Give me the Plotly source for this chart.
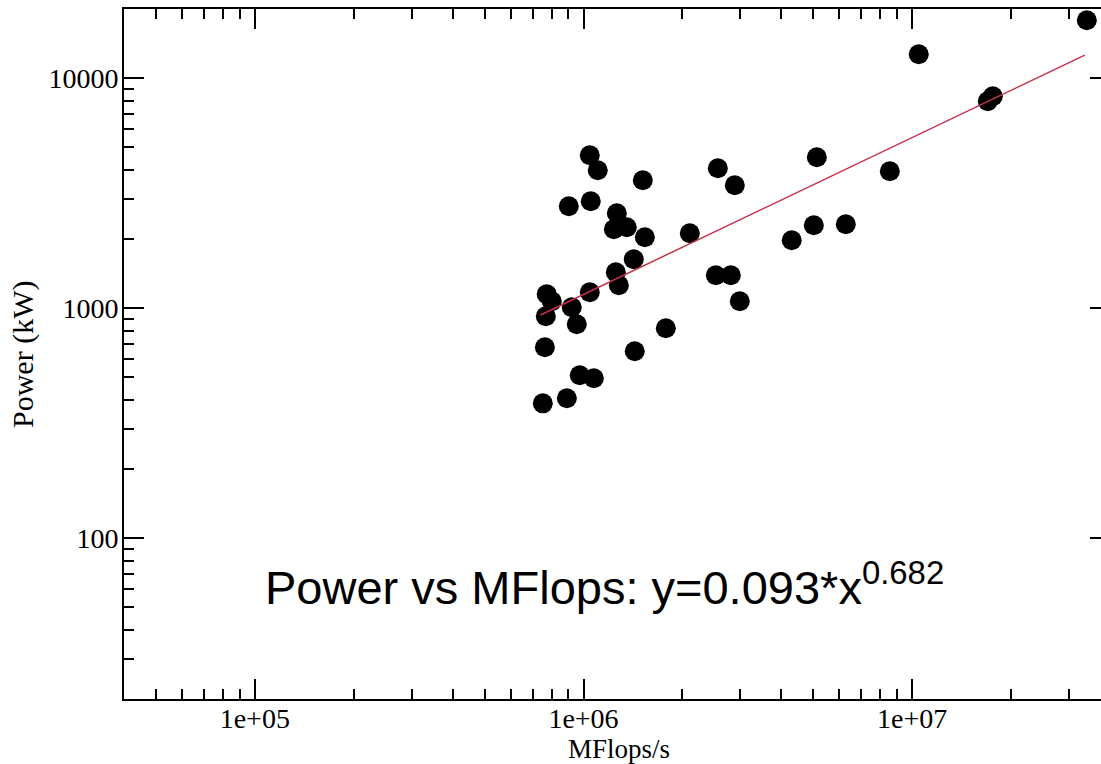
import plotly.graph_objects as go

# Data
mflops = [1.045e6, 1.105e6, 1.515e6, 9.02e5, 1.052e6, 1.263e6, 1.237e6, 1.354e6,
          1.537e6, 2.106e6, 1.422e6, 1.254e6, 1.281e6, 1.045e6, 7.73e5, 8.01e5,
          7.68e5, 9.21e5, 9.54e5, 1.780e6, 7.63e5, 1.432e6, 9.74e5, 1.075e6,
          7.52e5, 8.90e5,
          2.563e6, 2.886e6, 5.127e6, 8.55e6, 5.02e6, 6.28e6, 4.30e6, 2.527e6,
          2.807e6, 2.989e6,
          1.047e7, 1.698e7, 1.759e7, 3.398e7]
power_kw = [4626, 3981, 3602, 2777, 2918, 2588, 2205, 2250,
            2036, 2119, 1633, 1434, 1259, 1174, 1151, 1073,
            923, 1010, 852, 818, 677, 650, 511, 496,
            386, 406,
            4062, 3426, 4534, 3942, 2296, 2319, 1975, 1392,
            1392, 1073,
            12717, 7943, 8351, 17875]

fit_x = [7.4e5, 3.35e7]
fit_y = [935, 12600]

x_major = [1e5, 1e6, 1e7]
x_major_text = ["1e+05", "1e+06", "1e+07"]
x_minor = [4e4, 5e4, 6e4, 7e4, 8e4, 9e4,
           2e5, 3e5, 4e5, 5e5, 6e5, 7e5, 8e5, 9e5,
           2e6, 3e6, 4e6, 5e6, 6e6, 7e6, 8e6, 9e6,
           2e7, 3e7]
y_major = [100, 1000, 10000]
y_major_text = ["100", "1000", "10000"]
y_minor = [20, 30, 40, 50, 60, 70, 80, 90,
           200, 300, 400, 500, 600, 700, 800, 900,
           2000, 3000, 4000, 5000, 6000, 7000, 8000, 9000, 20000]

x_range = [4.60206, 7.5744]
y_range = [1.30103, 4.30103]

serif = "Liberation Serif"

fig = go.Figure()
fig.add_trace(go.Scatter(
    x=mflops, y=power_kw, mode="markers",
    marker=dict(color="black", size=20, line=dict(width=0)),
    showlegend=False))
fig.add_trace(go.Scatter(
    x=fit_x, y=fit_y, mode="lines",
    line=dict(color="#c8304a", width=1.5),
    showlegend=False))
fig.add_trace(go.Scatter(x=[None], y=[None], yaxis="y2", showlegend=False,
                         hoverinfo="skip"))

fig.update_layout(
    width=1101, height=764,
    margin=dict(l=124, r=0, t=9, b=65),
    paper_bgcolor="white", plot_bgcolor="white",
    showlegend=False,
    xaxis=dict(
        type="log", range=x_range,
        showgrid=False, zeroline=False,
        showline=True, linecolor="black", linewidth=2, mirror="ticks",
        ticks="inside", ticklen=20, tickwidth=2, tickcolor="black",
        tickmode="array", tickvals=x_major, ticktext=x_major_text,
        tickfont=dict(family=serif, size=28, color="black"),
        ticklabelstandoff=-7,
        minor=dict(tickmode="array", tickvals=x_minor, ticks="inside",
                   ticklen=10, tickwidth=2, tickcolor="black", showgrid=False),
    ),
    yaxis=dict(
        type="log", range=y_range,
        showgrid=False, zeroline=False,
        showline=True, linecolor="black", linewidth=2,
        ticks="inside", ticklen=20, tickwidth=2, tickcolor="black",
        tickmode="array", tickvals=y_major, ticktext=y_major_text,
        tickfont=dict(family=serif, size=28, color="black"),
        ticklabelstandoff=-2,
        minor=dict(tickmode="array", tickvals=y_minor, ticks="inside",
                   ticklen=10, tickwidth=2, tickcolor="black", showgrid=False),
    ),
    yaxis2=dict(
        type="log", range=y_range, overlaying="y", side="right", anchor="x",
        showgrid=False, zeroline=False, showline=False,
        ticks="inside", ticklen=11, tickwidth=2, tickcolor="black",
        tickmode="array", tickvals=y_major, showticklabels=False,
    ),
    annotations=[
        dict(text="Power vs MFlops: y=0.093*x<sup>0.682</sup>",
             xref="paper", yref="paper", x=0.1423, y=0.167,
             xanchor="left", yanchor="middle", showarrow=False,
             font=dict(family="Liberation Sans", size=47, color="black")),
        dict(text="MFlops/s", xref="paper", yref="paper",
             x=0.5067, y=-0.073, xanchor="center", yanchor="middle",
             showarrow=False,
             font=dict(family=serif, size=27, color="black")),
        dict(text="Power (kW)", xref="paper", yref="paper",
             x=-0.1034, y=0.5, xanchor="center", yanchor="middle",
             textangle=-90, showarrow=False,
             font=dict(family=serif, size=30, color="black")),
    ],
)

fig.write_html("out.html")
